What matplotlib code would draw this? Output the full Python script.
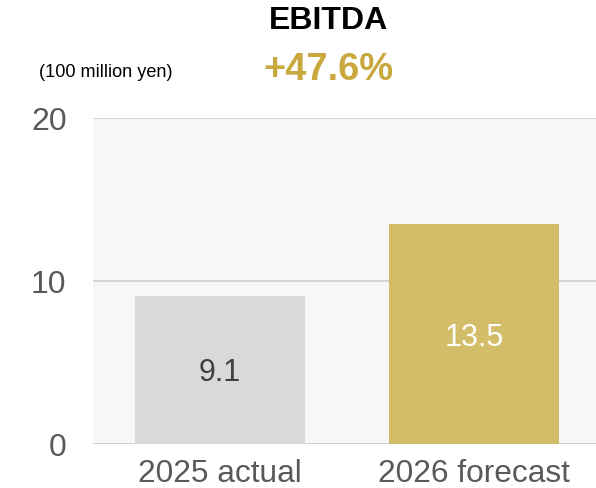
import matplotlib.pyplot as plt

plt.rcParams['font.family'] = ['Liberation Sans', 'DejaVu Sans']

categories = ['2025 actual', '2026 forecast']
ebitda = [9.1, 13.5]
growth_label = '+47.6%'
y_ticks = [0, 10, 20]

bar_colors = ['#d9d9d9', '#d3bd68']
value_colors = ['#404040', 'white']

fig = plt.figure(figsize=(5.96, 4.88), dpi=100)
ax = fig.add_axes([0.156, 0.090, 0.844, 0.668])
ax.set_facecolor('#f7f7f6')

x = list(range(len(categories)))
ax.bar(x, ebitda, width=0.67, color=bar_colors, zorder=3)

# value labels sit in the middle of each bar
for xi, v, c in zip(x, ebitda, value_colors):
    ax.text(xi, v / 2, f'{v}', ha='center', va='center_baseline', fontsize=22, color=c, zorder=4)

ax.set_xlim(-0.5, 1.48)
ax.set_ylim(0, 20)
ax.set_yticks(y_ticks)
ax.set_xticks(x)
ax.set_xticklabels(categories)
ax.yaxis.grid(True, color='#d0d0d0', linewidth=1.2, zorder=1)
ax.tick_params(axis='y', length=0, pad=19, labelsize=23, labelcolor='#595959')
ax.tick_params(axis='x', length=0, pad=11, labelsize=22.8, labelcolor='#595959')
for s in ax.spines.values():
    s.set_visible(False)
ax.axhline(0, color='#d0d0d0', linewidth=1.2, zorder=2)

fig.text(0.551, 0.956, 'EBITDA', ha='center', va='center', fontsize=23, fontweight='bold', color='black')
fig.text(0.551, 0.857, growth_label, ha='center', va='center', fontsize=27.4, fontweight='bold', color='#c9a93e')
fig.text(0.177, 0.851, '(100 million yen)', ha='center', va='center', fontsize=13.1, color='black')

fig.savefig('out.png', dpi=100)
